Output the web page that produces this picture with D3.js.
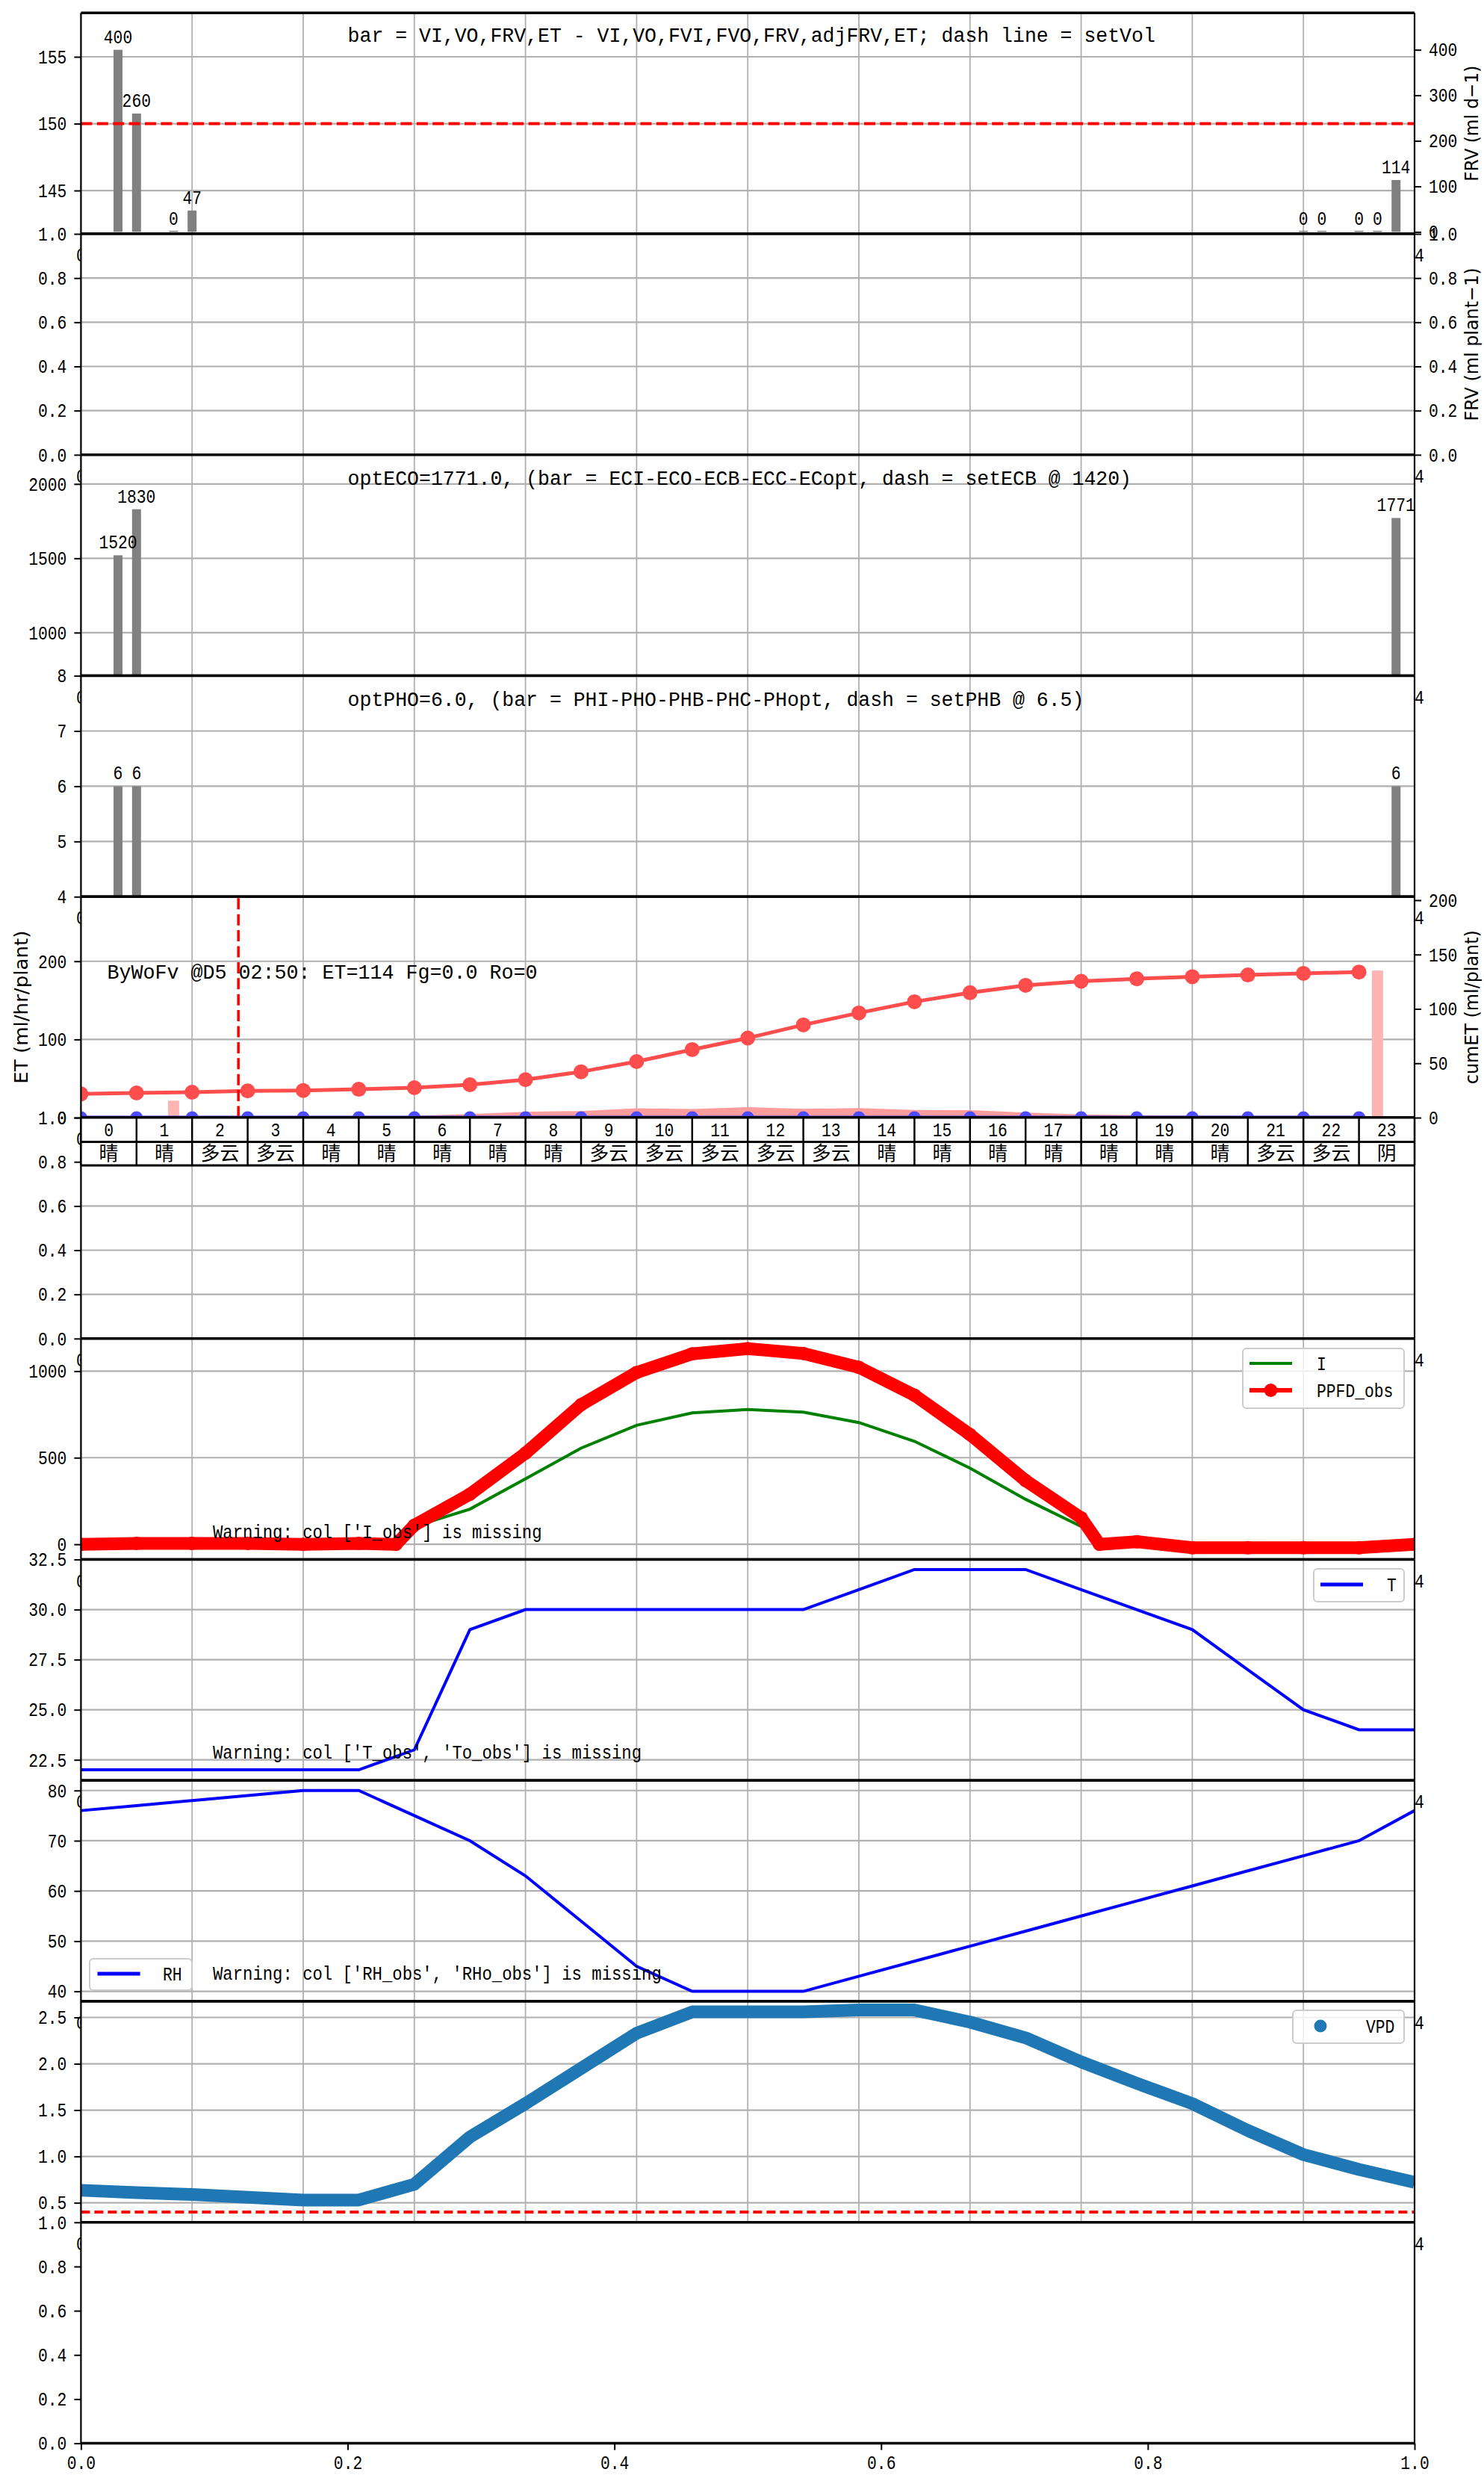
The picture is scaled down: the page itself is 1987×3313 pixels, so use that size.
<!DOCTYPE html>
<html>
<head>
<meta charset="utf-8">
<title>daily irrigation panels</title>
<script src="https://cdn.jsdelivr.net/npm/d3@7"></script>
<style>
  body { margin: 0; background: #fff; }
  svg { display: block; }
</style>
</head>
<body>
<script>
// ---------- data ----------
const gridHours = [0, 2, 4, 6, 8, 10, 12, 14, 16, 18, 20, 22, 24];
const fracTicks = [0, 0.2, 0.4, 0.6, 0.8, 1.0];

// panel 1: volumes
const barHours = [0.667, 1.0, 1.667, 2.0, 22.0, 22.333, 23.0, 23.333, 23.667];
const frvValues = [400, 260, 0, 47, 0, 0, 0, 0, 114];
const setVol = 150;
const volTicks = [145, 150, 155];
const frvTicks = [0, 100, 200, 300, 400];

// panel 3 / 4: EC and pH
const ecHours = [0.667, 1.0, 23.667];
const ecValues = [1520, 1830, 1771];
const ecTicks = [1000, 1500, 2000];
const phValues = [6, 6, 6];
const phTicks = [4, 5, 6, 7, 8];

// panel 5: ET
const etHours = [0, 1, 2, 3, 4, 5, 6, 7, 8, 9, 10, 11, 12, 13, 14, 15, 16, 17, 18, 19, 20, 21, 22, 23];
const cumET = [21.8, 22.7, 23.4, 24.6, 25.0, 26.1, 27.5, 30.3, 34.9, 42.2, 51.6, 62.6,
               73.2, 85.3, 96.3, 106.6, 114.9, 121.7, 125.4, 127.7, 129.6, 131.2, 132.7, 133.9];
const etHourly = [0.3, 0.3, 0.3, 0.3, 0.4, 0.5, 2.5, 4.5, 7.5, 8.5, 12, 11,
                  13.5, 11.2, 12.2, 9.8, 9.6, 6.4, 4.1, 3.1, 2.6, 2.2, 2.2, 2.2];
const etFlow = [0, 0, 0, 0, 0, 0, 0, 0, 0, 0, 0, 0, 0, 0, 0, 0, 0, 0, 0, 0, 0, 0, 0, 0];
const etBarHours = [1.667, 23.333];
const etBarValues = [15.6, 135.3];
const nowHour = 2.833;
const etTicks = [0, 100, 200];
const cumTicks = [0, 50, 100, 150, 200];
const weather = ["晴", "晴", "多云", "多云", "晴", "晴", "晴", "晴", "晴", "多云", "多云", "多云",
                 "多云", "多云", "晴", "晴", "晴", "晴", "晴", "晴", "晴", "多云", "多云", "阴"];

// panel 7: light
const ppfdHours = [0, 1, 2, 3, 4, 5, 5.67, 6, 7, 8, 9, 10, 11, 12, 13, 14, 15, 16, 17, 18, 18.33, 19, 20, 21, 22, 23, 24];
const ppfdObs = [0, 5, 5, 5, 0, 5, 0, 110, 289, 526, 806, 992, 1100, 1130, 1102, 1022, 861, 634, 368, 153, 0, 15, -20, -20, -20, -20, 0];
const iHours = [0, 5, 5.67, 6, 7, 8, 9, 10, 11, 12, 13, 14, 15, 16, 17, 18, 18.33, 24];
const iValues = [0, 0, 0, 103, 203, 378, 555, 687, 759, 778, 763, 703, 595, 440, 260, 103, 0, 0];
const ppfdTicks = [0, 500, 1000];

// panels 8-10: climate
const climHours = [0, 1, 2, 3, 4, 5, 6, 7, 8, 9, 10, 11, 12, 13, 14, 15, 16, 17, 18, 19, 20, 21, 22, 23, 24];
const tValues = [22, 22, 22, 22, 22, 22, 23, 29, 30, 30, 30, 30, 30, 30, 31, 32, 32, 32, 31, 30, 29, 27, 25, 24, 24];
const rhValues = [76, 77, 78, 79, 80, 80, 75, 70, 63, 54, 45, 40, 40, 40, 43, 46, 49, 52, 55, 58, 61, 64, 67, 70, 76];
const vpdValues = [0.635, 0.61, 0.59, 0.56, 0.53, 0.53, 0.70, 1.21, 1.57, 1.95, 2.33, 2.56,
                   2.56, 2.56, 2.58, 2.58, 2.45, 2.28, 2.02, 1.79, 1.57, 1.28, 1.02, 0.86, 0.72];
const vpdLimit = 0.4;
const tTicks = [22.5, 25, 27.5, 30, 32.5];
const rhTicks = [40, 50, 60, 70, 80];
const vpdTicks = [0.5, 1.0, 1.5, 2.0, 2.5];

// ---------- layout ----------
const W = 1987, H = 3313;
const L = 108.4, R = 1894, T0 = 17.3, PH = 295.75;
const MONO = "'Liberation Mono', 'DejaVu Sans Mono', monospace";
const SANS = "'DejaVu Sans', sans-serif";
const CJK = "'Noto Sans CJK SC', 'Noto Sans CJK JP', sans-serif";
const CW = 12.8, FS = 26;

const svg = d3.select("body").append("svg").attr("width", W).attr("height", H);
svg.append("rect").attr("width", W).attr("height", H).attr("fill", "#fff");
const defs = svg.append("defs");

const x = d3.scaleLinear().domain([0, 24]).range([L, R]);
const xFrac = d3.scaleLinear().domain([0, 1]).range([L, R]);

function txt(g, s, xx, yy, anchor, size, cw) {
  size = size || FS; cw = cw || CW;
  const w = s.length * cw;
  const x0 = anchor === "end" ? xx - w : anchor === "middle" ? xx - w / 2 : xx;
  return g.append("text").attr("x", x0).attr("y", yy)
    .attr("font-family", MONO).attr("font-size", size)
    .attr("textLength", w).attr("lengthAdjust", "spacingAndGlyphs")
    .attr("fill", "#000").text(s);
}

function styleAxis(axG, side) {
  axG.select(".domain").remove();
  axG.selectAll(".tick line").attr("stroke", "#000").attr("stroke-width", 2);
  axG.selectAll(".tick text").each(function () {
    const s = d3.select(this);
    const w = s.text().length * CW;
    s.attr("font-family", MONO).attr("font-size", FS).attr("fill", "#000")
      .attr("textLength", w).attr("lengthAdjust", "spacingAndGlyphs")
      .attr("text-anchor", "start");
    if (side === "left") s.attr("x", -19 - w);
    else if (side === "right") s.attr("x", 19);
    else s.attr("x", -w / 2);
  });
}

function vlabel(s, xx, cy, len) {
  svg.append("text").attr("transform", `translate(${xx},${cy}) rotate(-90)`)
    .attr("text-anchor", "middle").attr("font-family", SANS).attr("font-size", 25)
    .attr("textLength", len).attr("lengthAdjust", "spacingAndGlyphs").text(s);
}

// partial tick labels of the panel above peeking out at the edges
const stubs = svg.append("g");
[1, 2, 3, 4, 5, 6, 7, 8, 9, 10].forEach(i => {
  const t = T0 + i * PH;
  txt(stubs, "0", L, t + 37, "middle");
  if (i !== 5) txt(stubs, "24", R, t + 37, "middle");
});

function makePanel(i, cfg) {
  const t = T0 + i * PH, b = t + PH;
  const g = svg.append("g");
  g.append("rect").attr("x", L).attr("y", t).attr("width", R - L).attr("height", PH).attr("fill", "#fff");
  const yL = d3.scaleLinear().domain(cfg.left).range([b, t]);
  const yR = cfg.right ? d3.scaleLinear().domain(cfg.right).range([b, t]) : null;
  const grid = g.append("g").attr("stroke", "#b0b0b0");
  if (cfg.grid !== false) {
    grid.selectAll(null).data(gridHours).join("line")
      .attr("x1", d => x(d)).attr("x2", d => x(d)).attr("y1", t).attr("y2", b)
      .attr("stroke-width", 1.8);
    grid.selectAll(null).data(cfg.leftTicks.filter(v => yL(v) > t + 1 && yL(v) < b - 1)).join("line")
      .attr("x1", L).attr("x2", R).attr("y1", d => yL(d)).attr("y2", d => yL(d))
      .attr("stroke-width", 2.2);
  }
  defs.append("clipPath").attr("id", "clip" + i).append("rect")
    .attr("x", L).attr("y", t).attr("width", R - L).attr("height", PH);
  const plot = g.append("g").attr("clip-path", `url(#clip${i})`);
  const frame = g.append("g");
  frame.append("line").attr("x1", L).attr("x2", L).attr("y1", t).attr("y2", b).attr("stroke", "#000").attr("stroke-width", 2.2);
  frame.append("line").attr("x1", R).attr("x2", R).attr("y1", t).attr("y2", b).attr("stroke", "#000").attr("stroke-width", 2.2);
  frame.append("line").attr("x1", L).attr("x2", R).attr("y1", t).attr("y2", t).attr("stroke", "#000").attr("stroke-width", 3.6);
  frame.append("line").attr("x1", L).attr("x2", R).attr("y1", b).attr("y2", b).attr("stroke", "#000").attr("stroke-width", 3.6);

  const fmt = cfg.fmt || d3.format("d");
  const axL = frame.append("g").attr("transform", `translate(${L},0)`)
    .call(d3.axisLeft(yL).tickValues(cfg.leftTicks).tickFormat(fmt).tickSize(9).tickSizeOuter(0));
  styleAxis(axL, "left");
  if (yR && cfg.rightTicks) {
    const axR = frame.append("g").attr("transform", `translate(${R},0)`)
      .call(d3.axisRight(yR).tickValues(cfg.rightTicks).tickFormat(cfg.rfmt || fmt).tickSize(9).tickSizeOuter(0));
    styleAxis(axR, "right");
  }
  return { g, plot, frame, yL, yR, t, b };
}

function bars(p, y, hrs, vals, labels) {
  const data = hrs.map((h, k) => ({ h, v: vals[k] }));
  p.plot.selectAll(null).data(data).join("rect")
    .attr("x", d => x(d.h) - 6).attr("width", 12)
    .attr("y", d => Math.min(y(d.v), y(0) - 1.5))
    .attr("height", d => Math.max(1.5, y(0) - y(d.v)))
    .attr("fill", "#808080");
  if (labels) data.forEach(d => txt(p.frame, String(d.v), x(d.h), y(d.v) - 9, "middle"));
}

const f1 = d3.format(".1f");

// ---------- panel 1 ----------
const p0 = makePanel(0, { left: [141.76, 158.28], right: [-4.3, 481], leftTicks: volTicks, rightTicks: frvTicks });
bars(p0, p0.yR, barHours, frvValues, true);
p0.plot.append("line").attr("x1", L).attr("x2", R).attr("y1", p0.yL(setVol)).attr("y2", p0.yL(setVol))
  .attr("stroke", "red").attr("stroke-width", 4).attr("stroke-dasharray", "15,6.4");
txt(p0.frame, "bar = VI,VO,FRV,ET - VI,VO,FVI,FVO,FRV,adjFRV,ET; dash line = setVol", 465.6, p0.t + 39, "start", 27, 15.9);
vlabel("FRV (ml d−1)", 1979, (p0.t + p0.b) / 2, 155);

// ---------- panel 2 ----------
const p1 = makePanel(1, { left: [0, 1], right: [0, 1], leftTicks: fracTicks, rightTicks: fracTicks, fmt: f1 });
vlabel("FRV (ml plant−1)", 1979, (p1.t + p1.b) / 2, 205);

// ---------- panel 3 ----------
const p2 = makePanel(2, { left: [710, 2196], leftTicks: ecTicks });
bars(p2, p2.yL, ecHours, ecValues, true);
txt(p2.frame, "optECO=1771.0, (bar = ECI-ECO-ECB-ECC-ECopt, dash = setECB @ 1420)", 465.6, p2.t + 40, "start", 27, 15.9);

// ---------- panel 4 ----------
const p3 = makePanel(3, { left: [4, 8], leftTicks: phTicks });
bars(p3, p3.yL, ecHours, phValues, true);
txt(p3.frame, "optPHO=6.0, (bar = PHI-PHO-PHB-PHC-PHopt, dash = setPHB @ 6.5)", 465.6, p3.t + 40, "start", 27, 15.9);

// ---------- panel 5: ET ----------
const p4 = makePanel(4, { left: [0, 282.6], right: [0, 203.2], leftTicks: etTicks, rightTicks: cumTicks });
p4.plot.append("path")
  .datum(etHours.map((h, k) => [h, etHourly[k]]))
  .attr("d", d3.area().x(d => x(d[0])).y0(p4.yL(0)).y1(d => p4.yL(d[1])))
  .attr("fill", "#ff9c9c");
p4.plot.selectAll(null).data(etBarHours.map((h, k) => [h, etBarValues[k]])).join("rect")
  .attr("x", d => x(d[0]) - 7.5).attr("width", 15)
  .attr("y", d => p4.yR(d[1])).attr("height", d => p4.yR(0) - p4.yR(d[1]))
  .attr("fill", "#ffb4b4");
const cumPts = etHours.map((h, k) => [h, cumET[k]]);
p4.plot.append("path").datum(cumPts)
  .attr("d", d3.line().x(d => x(d[0])).y(d => p4.yR(d[1])))
  .attr("fill", "none").attr("stroke", "#ff4d4d").attr("stroke-width", 5);
p4.plot.selectAll(null).data(cumPts).join("circle")
  .attr("cx", d => x(d[0])).attr("cy", d => p4.yR(d[1])).attr("r", 10).attr("fill", "#ff4d4d");
const flowPts = etHours.map((h, k) => [h, etFlow[k]]);
p4.plot.append("path").datum(flowPts)
  .attr("d", d3.line().x(d => x(d[0])).y(d => p4.yL(d[1]) - 1))
  .attr("fill", "none").attr("stroke", "#3030e0").attr("stroke-width", 3);
p4.plot.selectAll(null).data(flowPts).join("circle")
  .attr("cx", d => x(d[0])).attr("cy", d => p4.yL(d[1])).attr("r", 8.5).attr("fill", "#4d4dff");
p4.plot.append("line").attr("x1", x(nowHour)).attr("x2", x(nowHour)).attr("y1", p4.t + 2).attr("y2", p4.b)
  .attr("stroke", "red").attr("stroke-width", 3.5).attr("stroke-dasharray", "15,6.4");
txt(p4.frame, "ByWoFv @D5 02:50: ET=114 Fg=0.0 Ro=0", 143.5, p4.t + 110, "start", 28, 16);
vlabel("ET (ml/hr/plant)", 37, (p4.t + p4.b) / 2, 205);
vlabel("cumET (ml/plant)", 1979, (p4.t + p4.b) / 2, 206);

// ---------- panel 6 with hour/weather table ----------
const p5 = makePanel(5, { left: [0, 1], leftTicks: fracTicks, fmt: f1 });
const tb = svg.append("g");
const tTop = p5.t, tMid = p5.t + 32.5, tBot = p5.t + 64;
tb.append("rect").attr("x", L).attr("y", tTop).attr("width", R - L).attr("height", tBot - tTop).attr("fill", "#fff");
etHours.forEach((h, k) => {
  txt(tb, String(h), x(h + 0.5), tTop + 25, "middle");
  tb.append("text").attr("x", x(h + 0.5)).attr("y", tBot - 7).attr("text-anchor", "middle")
    .attr("font-family", CJK).attr("font-size", 26).text(weather[k]);
});
tb.selectAll(null).data(etHours.concat([24])).join("line")
  .attr("x1", d => x(d)).attr("x2", d => x(d)).attr("y1", tTop).attr("y2", tBot)
  .attr("stroke", "#000").attr("stroke-width", 2.5);
[tTop, tMid, tBot].forEach(yy => tb.append("line").attr("x1", L).attr("x2", R).attr("y1", yy).attr("y2", yy)
  .attr("stroke", "#000").attr("stroke-width", 3));

// ---------- panel 7: light ----------
const p6 = makePanel(6, { left: [-88, 1188], leftTicks: ppfdTicks });
p6.plot.append("path").datum(iHours.map((h, k) => [h, iValues[k]]))
  .attr("d", d3.line().x(d => x(d[0])).y(d => p6.yL(d[1])))
  .attr("fill", "none").attr("stroke", "green").attr("stroke-width", 4);
const ppfdPts = ppfdHours.map((h, k) => [h, ppfdObs[k]]);
p6.plot.append("path").datum(ppfdPts)
  .attr("d", d3.line().x(d => x(d[0])).y(d => p6.yL(d[1])))
  .attr("fill", "none").attr("stroke", "red").attr("stroke-width", 17).attr("stroke-linejoin", "round");
p6.plot.selectAll(null).data(ppfdPts).join("circle")
  .attr("cx", d => x(d[0])).attr("cy", d => p6.yL(d[1])).attr("r", 9).attr("fill", "red");
txt(p6.frame, "Warning: col ['I_obs'] is missing", 285, p6.b - 29, "start", 26, 13.35);

function legendBox(g, bx, by, bw, bh) {
  g.append("rect").attr("x", bx).attr("y", by).attr("width", bw).attr("height", bh).attr("rx", 5)
    .attr("fill", "#fff").attr("fill-opacity", 0.8).attr("stroke", "#cccccc").attr("stroke-width", 2);
}
legendBox(p6.frame, 1664, 1805, 216, 80);
p6.frame.append("line").attr("x1", 1673).attr("x2", 1730).attr("y1", 1825).attr("y2", 1825).attr("stroke", "green").attr("stroke-width", 4);
txt(p6.frame, "I", 1763, 1834, "start");
p6.frame.append("line").attr("x1", 1673).attr("x2", 1730).attr("y1", 1861).attr("y2", 1861).attr("stroke", "red").attr("stroke-width", 6);
p6.frame.append("circle").attr("cx", 1701.5).attr("cy", 1861).attr("r", 9).attr("fill", "red");
txt(p6.frame, "PPFD_obs", 1763, 1870, "start");

// ---------- panel 8: temperature ----------
const p7 = makePanel(7, { left: [21.47, 32.5], leftTicks: tTicks, fmt: f1 });
p7.plot.append("path").datum(climHours.map((h, k) => [h, tValues[k]]))
  .attr("d", d3.line().x(d => x(d[0])).y(d => p7.yL(d[1])))
  .attr("fill", "none").attr("stroke", "blue").attr("stroke-width", 4);
txt(p7.frame, "Warning: col ['T_obs', 'To_obs'] is missing", 285, p7.b - 29, "start", 26, 13.35);
legendBox(p7.frame, 1759, 2100, 121, 44);
p7.frame.append("line").attr("x1", 1768).attr("x2", 1825).attr("y1", 2121).attr("y2", 2121).attr("stroke", "blue").attr("stroke-width", 5);
txt(p7.frame, "T", 1857, 2130, "start");

// ---------- panel 9: humidity ----------
const p8 = makePanel(8, { left: [38, 82], leftTicks: rhTicks });
p8.plot.append("path").datum(climHours.map((h, k) => [h, rhValues[k]]))
  .attr("d", d3.line().x(d => x(d[0])).y(d => p8.yL(d[1])))
  .attr("fill", "none").attr("stroke", "blue").attr("stroke-width", 4);
legendBox(p8.frame, 120, 2622, 137, 42);
p8.frame.append("line").attr("x1", 130.5).attr("x2", 187.6).attr("y1", 2642).attr("y2", 2642).attr("stroke", "blue").attr("stroke-width", 5);
txt(p8.frame, "RH", 218, 2651, "start");
txt(p8.frame, "Warning: col ['RH_obs', 'RHo_obs'] is missing", 285, p8.b - 29, "start", 26, 13.35);

// ---------- panel 10: VPD ----------
const p9 = makePanel(9, { left: [0.289, 2.673], leftTicks: vpdTicks, fmt: f1 });
p9.plot.append("path").datum(climHours.map((h, k) => [h, vpdValues[k]]))
  .attr("d", d3.line().x(d => x(d[0])).y(d => p9.yL(d[1])))
  .attr("fill", "none").attr("stroke", "#1f77b4").attr("stroke-width", 17).attr("stroke-linejoin", "round");
p9.plot.append("line").attr("x1", L).attr("x2", R).attr("y1", p9.yL(vpdLimit)).attr("y2", p9.yL(vpdLimit))
  .attr("stroke", "red").attr("stroke-width", 4).attr("stroke-dasharray", "12,6");
legendBox(p9.frame, 1731, 2691, 149, 44);
p9.frame.append("circle").attr("cx", 1768).attr("cy", 2712).attr("r", 8.5).attr("fill", "#1f77b4");
txt(p9.frame, "VPD", 1829, 2721, "start");

// ---------- panel 11: empty with 0..1 x axis ----------
const p10 = makePanel(10, { left: [0, 1], leftTicks: fracTicks, fmt: f1, grid: false });
const axB = p10.frame.append("g").attr("transform", `translate(0,${p10.b})`)
  .call(d3.axisBottom(xFrac).tickValues(fracTicks).tickFormat(f1).tickSize(9).tickPadding(7).tickSizeOuter(0));
styleAxis(axB, "bottom");
</script>
</body>
</html>
